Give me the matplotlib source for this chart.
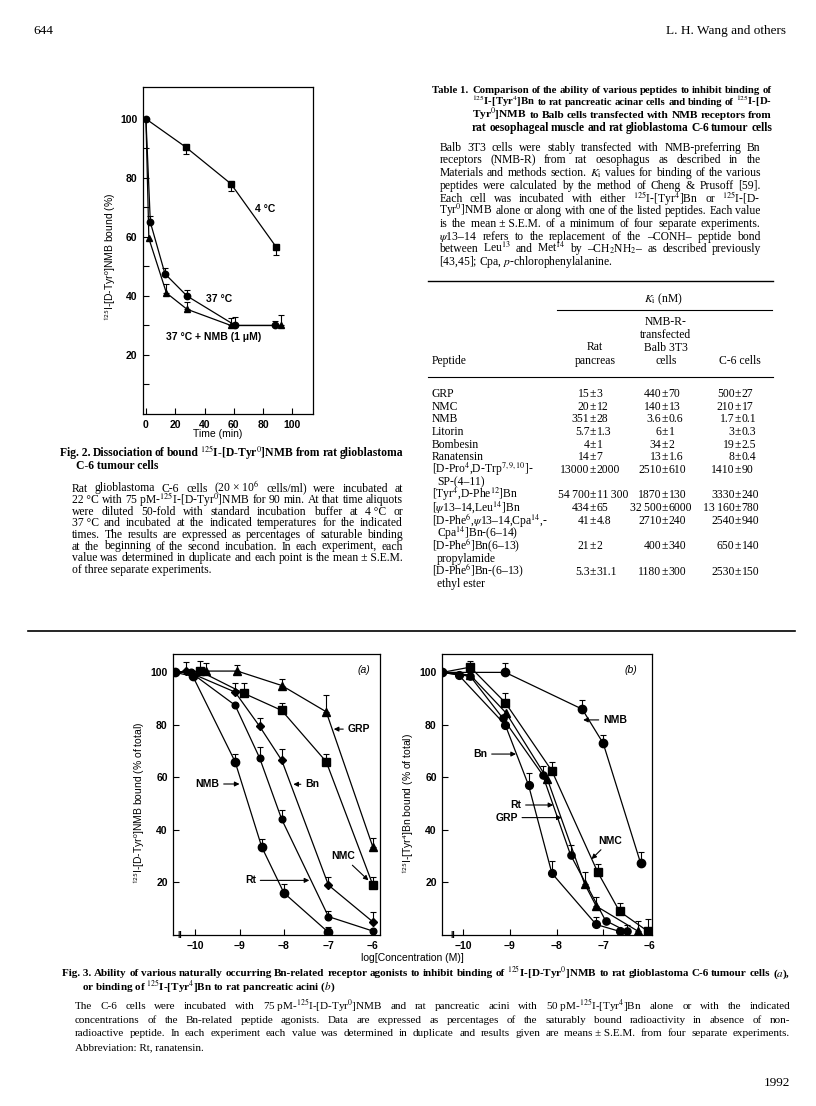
import matplotlib
matplotlib.use("Agg")
import matplotlib.pyplot as plt
from matplotlib.lines import Line2D

W, H = 816, 1106
SERIF = ["Liberation Serif", "DejaVu Serif"]
SANS = ["Liberation Sans", "DejaVu Sans"]

plt.rcParams["mathtext.fontset"] = "stix"
plt.rcParams["font.family"] = SANS
plt.rcParams["axes.linewidth"] = 0.9

# ---- Fig. 2: dissociation time course (% bound)
time_4c = [0, 27, 58, 89]
bound_4c = [100, 90.5, 78, 56.5]
err_4c = [0, 2.5, 2.5, 2.5]
time_37 = [0, 3, 13, 28, 61, 88]
bound_37 = [100, 65, 47.5, 40, 30, 30]
err_37 = [0, 2, 2, 2, 3, 1.5]
time_37nmb = [0, 2, 14, 28, 58, 92]
bound_37nmb = [100, 59.5, 41, 35.5, 30, 30]
err_37nmb = [0, 0, 3, 2.5, 2.5, 3.5]

# ---- Fig. 3(a): C-6 cells, log[concentration] vs % bound
logc_grp_a = [-10.45, -9.75, -9.05, -8.05, -7.05, -6.0]
bound_grp_a = [100, 100.5, 100.5, 95, 85, 33.5]
err_grp_a = [0, 3, 2.5, 2.5, 6.5, 3.5]
logc_nmc_a = [-10.45, -9.9, -8.9, -8.05, -7.05, -6.0]
bound_nmc_a = [100, 100.5, 92, 85.5, 66, 19]
err_nmc_a = [0, 4, 4, 3, 3, 3]
logc_bn_a = [-10.45, -10.2, -9.1, -8.55, -8.05, -7.0, -6.0]
bound_bn_a = [100, 100.5, 92.5, 79.5, 66.5, 19, 5]
err_bn_a = [0, 3.5, 3.5, 3, 4.5, 3, 3.8]
logc_rt_a = [-10.45, -10.1, -9.1, -8.55, -8.05, -7.0, -6.0]
bound_rt_a = [100, 100, 87.5, 67.5, 44, 7, 1.5]
err_rt_a = [0, 0, 0, 4, 3.5, 2, 0]
logc_nmb_a = [-10.45, -10.05, -9.1, -8.5, -8.0, -7.0]
bound_nmb_a = [100, 98.5, 66, 33.5, 16, 1]
err_nmb_a = [0, 0, 3, 3, 3.5, 2.2]

# ---- Fig. 3(b): pancreatic acini
logc_nmb_b = [-10.45, -9.1, -7.45, -7.0, -6.2]
bound_nmb_b = [100, 100, 86, 73, 27.5]
err_nmb_b = [0, 3.5, 3.5, 3, 4.2]
logc_nmc_b = [-10.45, -9.85, -9.1, -8.1, -7.12, -6.65, -6.05]
bound_nmc_b = [100, 102, 88.5, 62.5, 24, 9, 1.5]
err_nmc_b = [0, 2.5, 3.5, 3.5, 3, 3, 4.5]
logc_bn_b = [-10.45, -10.1, -9.1, -8.6, -8.1, -7.15, -6.65]
bound_bn_b = [100, 99, 80, 57, 23.5, 4, 1.4]
err_bn_b = [0, 0, 0, 4.5, 4.7, 3, 0]
logc_rt_b = [-10.45, -9.85, -9.15, -8.3, -7.7, -6.95, -6.5]
bound_rt_b = [100, 98.5, 82.5, 61, 30.5, 5.5, 1.4]
err_rt_b = [0, 0, 0, 3.5, 3.8, 0, 2.5]
logc_grp_b = [-10.45, -9.85, -9.08, -8.2, -7.4, -7.15, -6.25]
bound_grp_b = [100, 99, 84.5, 59.5, 19.5, 11, 1.4]
err_grp_b = [0, 0, 0, 0, 4.5, 3.5, 4]

# ---- Table 1
peptides = ["GRP", "NMC", "NMB", "Litorin", "Bombesin", "Ranatensin",
            "[D-Pro$^{4}$,D-Trp$^{7,9,10}$]-|SP-(4–11)",
            "[Tyr$^{4}$,D-Phe$^{12}$]Bn",
            "[$\\psi$13–14,Leu$^{14}$]Bn",
            "[D-Phe$^{6}$,$\\psi$13–14,Cpa$^{14}$,-|Cpa$^{14}$]Bn-(6–14)",
            "[D-Phe$^{6}$]Bn(6–13)|propylamide",
            "[D-Phe$^{6}$]Bn-(6–13)|ethyl ester"]
ki_pancreas = ["15±3", "20±12", "351±28", "5.7±1.3", "4±1", "14±7", "13000±2000",
               "54\u2009700±11\u2009300", "434±65", "41±4.8", "21±2", "5.3±31.1"]
ki_balb = ["440±70", "140±13", "3.6±0.6", "6±1", "34±2", "13±1.6", "2510±610",
           "1870±130", "32\u2009500±6000", "2710±240", "400±340", "1180±300"]
ki_c6 = ["500±27", "210±17", "1.7±0.1", "3±0.3", "19±2.5", "8±0.4", "1410±90",
         "3330±240", "13\u2009160±780", "2540±940", "650±140", "2530±150"]

fig = plt.figure(figsize=(W / 100, H / 100), dpi=100)
fig.patch.set_facecolor("white")
renderer = fig.canvas.get_renderer()


def fx(x):
    return x / W


def fy(y):
    return 1 - y / H


def word(x, y, s, size, weight="normal", ha="left", family=SERIF):
    # y = visual middle of the line, pixels from the top of the page
    return fig.text(fx(x), fy(y + 0.3 * size * 100 / 72), s.replace("~", " "),
                    fontsize=size, fontweight=weight, ha=ha, va="baseline", family=family)


def block(x0, x1, y0, dy, lines, size, weight="normal", free_last=True):
    # justified paragraph; a line that is too long at `size` is set a bit smaller
    fs = size
    for i, line in enumerate(lines):
        y = y0 + i * dy
        if free_last and i == len(lines) - 1:
            word(x0, y, line, size, weight)
            continue
        objs = [word(x0, y, p, size, weight) for p in line.split(" ")]
        widths = [o.get_window_extent(renderer).width for o in objs]
        need = sum(widths) + 0.22 * size * 100 / 72 * (len(objs) - 1)
        fs = size * min(1.0, (x1 - x0) / need)
        for o in objs:
            o.set_fontsize(fs)
            o.set_y(fy(y + 0.3 * fs * 100 / 72))
        widths = [o.get_window_extent(renderer).width for o in objs]
        gap = (x1 - x0 - sum(widths)) / max(len(objs) - 1, 1)
        x = x0
        for o, w in zip(objs, widths):
            o.set_x(fx(x))
            x += w + gap
        if i == 0:
            first = fs
    return first


def hrule(x0, x1, y, lw=0.8):
    fig.add_artist(Line2D([fx(x0), fx(x1)], [fy(y), fy(y)], color="k", lw=lw))


def errs(ax, x, y, e, down=False):
    xs = [a for a, b in zip(x, e) if b > 0]
    ys = [a for a, b in zip(y, e) if b > 0]
    es = [b for b in e if b > 0]
    zero = [0] * len(es)
    yerr = [es, zero] if down else [zero, es]
    ax.errorbar(xs, ys, yerr=yerr, fmt="none", ecolor="k", elinewidth=0.8,
                capsize=2, capthick=0.8, zorder=2)


def series(ax, x, y, e, marker, ms, down=False, skip_first=True):
    errs(ax, x, y, e, down)
    ax.plot(x, y, "-", color="k", lw=0.9, marker=marker, ms=ms,
            markevery=slice(1 if skip_first else 0, None), zorder=3)


TICK = dict(fontsize=7.5, fontweight="bold", family=SANS)

# page header
word(33, 30, "644", 9.5)
word(786, 30, "L. H. Wang and others", 9.5, ha="right")

# ---------------- Fig. 2 ----------------
ax = fig.add_axes([fx(143), fy(414), 170 / W, 327 / H])
series(ax, time_4c, bound_4c, err_4c, "s", 4.2, down=True)
series(ax, time_37nmb, bound_37nmb, err_37nmb, "^", 4.8)
series(ax, time_37, bound_37, err_37, "o", 4.6, skip_first=False)
ax.set_xlim(-2, 114)
ax.set_ylim(0, 110.8)
ax.set_xticks([0, 20, 40, 60, 80, 100], labels=["0", "20", "40", "60", "80", "100"], **TICK)
ax.set_yticks([20, 40, 60, 80, 100], labels=["20", "40", "60", "80", "100"], **TICK)
ax.set_yticks([10, 30, 50, 70, 90], minor=True)
ax.tick_params(which="both", direction="in", length=4, width=0.8, pad=4)
ax.text(81.6, 69.3, "4 °C", ha="center", va="center", **TICK)
ax.text(50.1, 38.8, "37 °C", ha="center", va="center", **TICK)
ax.text(46, 26.2, "37 °C + NMB (1 μM)", ha="center", va="center", **TICK)
fig.text(fx(110.7), fy(257), "$^{125}$I-[D-Tyr$^{0}$]NMB bound (%)", rotation=90,
         ha="center", va="center", fontsize=7.5, family=SANS, math_fontfamily="stixsans")
fig.text(fx(218), fy(434), "Time (min)", ha="center", va="center", fontsize=7.5, family=SANS)

fs2 = block(60, 403, 452.7, 13, ["Fig.~2. Dissociation of bound $^{125}$I-[D-Tyr$^{0}$]NMB from rat glioblastoma"],
            8.6, "bold", free_last=False)
word(76, 465.7, "C-6 tumour cells", fs2, "bold")
block(72, 403, 488, 11.6, [
    "Rat glioblastoma C-6 cells (20~×~10$^{6}$ cells/ml) were incubated at",
    "22~°C with 75~pM-$^{125}$I-[D-Tyr$^{0}$]NMB for 90 min. At that time aliquots",
    "were diluted 50-fold with standard incubation buffer at 4~°C or",
    "37~°C and incubated at the indicated temperatures for the indicated",
    "times. The results are expressed as percentages of saturable binding",
    "at the beginning of the second incubation. In each experiment, each",
    "value was determined in duplicate and each point is the mean~±~S.E.M.",
    "of three separate experiments."], 8.4)

# ---------------- Table 1 ----------------
fst = block(472, 772, 89.5, 12.6, [
    "Comparison of the ability of various peptides to inhibit binding of",
    "$^{125}$I-[Tyr$^{4}$]Bn to rat pancreatic acinar cells and binding of $^{125}$I-[D-",
    "Tyr$^{0}$]NMB to Balb cells transfected with NMB receptors from",
    "rat oesophageal muscle and rat glioblastoma C-6 tumour cells"], 8.4, "bold", free_last=False)
word(432, 89.5, "Table 1.", fst, "bold")
block(439.3, 760.7, 147.3, 12.68, [
    "Balb 3T3 cells were stably transfected with NMB-preferring Bn",
    "receptors (NMB-R) from rat oesophagus as described in the",
    "Materials and methods section. $K_{\\mathrm{i}}$ values for binding of the various",
    "peptides were calculated by the method of Cheng & Prusoff [59].",
    "Each cell was incubated with either $^{125}$I-[Tyr$^{4}$]Bn or $^{125}$I-[D-",
    "Tyr$^{0}$]NMB alone or along with one of the listed peptides. Each value",
    "is the mean~±~S.E.M. of a minimum of four separate experiments.",
    "$\\psi$13–14 refers to the replacement of the –CONH– peptide bond",
    "between Leu$^{13}$ and Met$^{14}$ by –CH$_{2}$NH$_{2}$– as described previously",
    "[43,45]; Cpa, $p$-chlorophenylalanine."], 8.4)

hrule(428, 773, 280.7, 1.0)
word(663, 298.3, "$K_{\\mathrm{i}}$ (nM)", 8.4, ha="center")
hrule(557, 772, 310, 0.8)
for i, s in enumerate(["NMB-R-", "transfected", "Balb 3T3", "cells"]):
    word(666, 321.7 + 13 * i, s, 8.4, ha="center")
word(595, 346.7, "Rat", 8.4, ha="center")
word(595, 360.7, "pancreas", 8.4, ha="center")
word(740, 360.7, "C-6 cells", 8.4, ha="center")
word(431.7, 360.7, "Peptide", 8.4)
hrule(428, 773, 376.7, 0.8)

pm_x = [593, 665, 738]
row_y = 393.3
for name, a, b, c in zip(peptides, ki_pancreas, ki_balb, ki_c6):
    lines = name.split("|")
    word(431.7, row_y, lines[0], 8.4)
    for cx, val in zip(pm_x, [a, b, c]):
        m, s = val.split("±")
        word(cx - 3.6, row_y, m, 8.4, ha="right")
        word(cx, row_y, "±", 8.4, ha="center")
        word(cx + 3.6, row_y, s, 8.4)
    for extra in lines[1:]:
        row_y += 12.7
        word(437, row_y, extra, 8.4)
    row_y += 12.7

hrule(28, 795, 631, 1.2)


# ---------------- Fig. 3 ----------------
def fig3_axes(left, right, xlim):
    a = fig.add_axes([fx(left), fy(935), (right - left) / W, (935 - 654) / H])
    a.set_xlim(*xlim)
    a.set_ylim(0, 107)
    a.set_xticks([-10, -9, -8, -7, -6], labels=["−10", "−9", "−8", "−7", "−6"], **TICK)
    a.set_yticks([20, 40, 60, 80, 100], labels=["20", "40", "60", "80", "100"], **TICK)
    a.tick_params(direction="in", length=4.5, width=0.8, pad=4)
    return a


def label(a, s, tip, pos):
    a.annotate(s, xy=tip, xytext=pos, ha="center", va="center",
               arrowprops=dict(arrowstyle="-|>", color="k", lw=0.8, mutation_scale=7,
                               shrinkA=1, shrinkB=0), **TICK)


axa = fig3_axes(173.3, 380, (-10.49, -5.84))
series(axa, logc_grp_a, bound_grp_a, err_grp_a, "^", 5.6)
series(axa, logc_nmc_a, bound_nmc_a, err_nmc_a, "s", 5.2)
series(axa, logc_bn_a, bound_bn_a, err_bn_a, "D", 4.4)
series(axa, logc_rt_a, bound_rt_a, err_rt_a, "o", 4.8)
series(axa, logc_nmb_a, bound_nmb_a, err_nmb_a, "o", 6.0, skip_first=False)
axa.text(0.955, 0.96, "(a)", transform=axa.transAxes, ha="right", va="top",
         fontsize=7.5, fontstyle="italic", family=SANS)
label(axa, "GRP", (-6.88, 78.4), (-6.32, 78.4))
label(axa, "NMB", (-9.0, 57.5), (-9.72, 57.5))
label(axa, "Bn", (-7.79, 57.4), (-7.37, 57.4))
label(axa, "NMC", (-6.1, 20.8), (-6.67, 29.9))
label(axa, "Rt", (-7.43, 20.8), (-8.75, 20.8))
axa.text(-10.34, 0, "||", transform=axa.get_xaxis_transform(), ha="center", va="center",
         fontsize=6, fontweight="bold")

axb = fig3_axes(442.3, 651.7, (-10.45, -5.96))
series(axb, logc_grp_b, bound_grp_b, err_grp_b, "^", 5.6)
series(axb, logc_nmc_b, bound_nmc_b, err_nmc_b, "s", 5.2)
series(axb, logc_rt_b, bound_rt_b, err_rt_b, "o", 5.2)
series(axb, logc_bn_b, bound_bn_b, err_bn_b, "o", 5.6)
series(axb, logc_nmb_b, bound_nmb_b, err_nmb_b, "o", 6.0, skip_first=False)
axb.text(0.93, 0.96, "(b)", transform=axb.transAxes, ha="right", va="top",
         fontsize=7.5, fontstyle="italic", family=SANS)
label(axb, "NMB", (-7.43, 81.9), (-6.75, 81.9))
label(axb, "Bn", (-8.87, 68.9), (-9.63, 68.9))
label(axb, "Rt", (-8.07, 49.5), (-8.87, 49.5))
label(axb, "GRP", (-7.89, 44.7), (-9.07, 44.7))
label(axb, "NMC", (-7.25, 28.9), (-6.86, 35.8))
axb.text(-10.23, 0, "||", transform=axb.get_xaxis_transform(), ha="center", va="center",
         fontsize=6, fontweight="bold")

fig.text(fx(139.3), fy(803), "$^{125}$I-[D-Tyr$^{0}$]NMB bound (% of total)", rotation=90,
         ha="center", va="center", fontsize=7.5, family=SANS, math_fontfamily="stixsans")
fig.text(fx(408.3), fy(803), "$^{125}$I-[Tyr$^{4}$]Bn bound (% of total)", rotation=90,
         ha="center", va="center", fontsize=7.5, family=SANS, math_fontfamily="stixsans")
fig.text(fx(412), fy(958), "log[Concentration (M)]", ha="center", va="center",
         fontsize=7.5, family=SANS)

fs3 = block(62, 790, 973, 13, [
    "Fig.~3. Ability of various naturally occurring Bn-related receptor agonists to inhibit binding of "
    "$^{125}$I-[D-Tyr$^{0}$]NMB to rat glioblastoma C-6 tumour cells ($a$),"], 8.4, "bold", free_last=False)
word(82, 986.5, "or binding of $^{125}$I-[Tyr$^{4}$]Bn to rat pancreatic acini ($b$)", fs3, "bold")
block(75, 790, 1006, 13.5, [
    "The C-6 cells were incubated with 75~pM-$^{125}$I-[D-Tyr$^{0}$]NMB and rat pancreatic acini with "
    "50~pM-$^{125}$I-[Tyr$^{4}$]Bn alone or with the indicated",
    "concentrations of the Bn-related peptide agonists. Data are expressed as percentages of the "
    "saturably bound radioactivity in absence of non-",
    "radioactive peptide. In each experiment each value was determined in duplicate and results "
    "given are means~±~S.E.M. from four separate experiments.",
    "Abbreviation: Rt, ranatensin."], 8.0)
word(790, 1082, "1992", 9.5, ha="right")

fig.savefig("out.png", dpi=100, facecolor="white")
